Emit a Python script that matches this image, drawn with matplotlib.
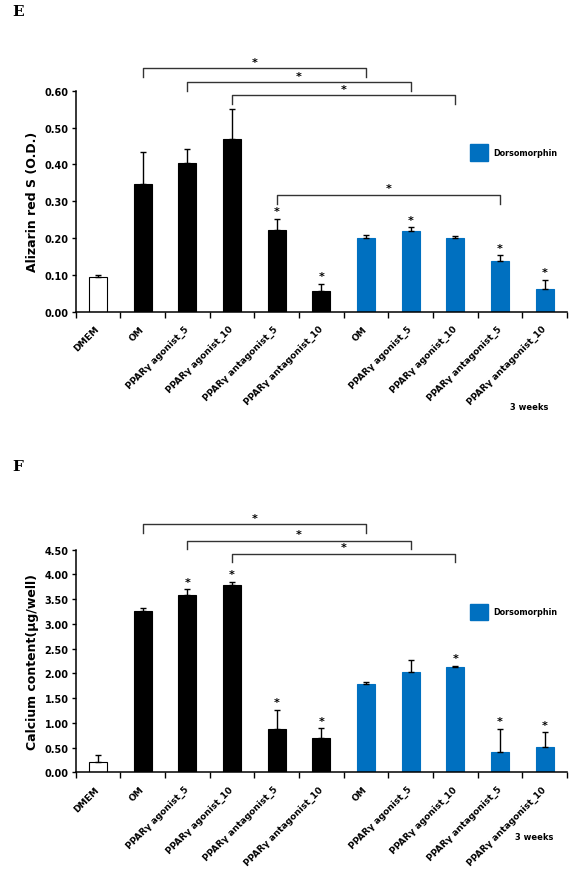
import numpy as np
import matplotlib.pyplot as plt
from matplotlib.patches import Patch

plt.rcParams['font.family'] = ['DejaVu Sans']
plt.rcParams['font.weight'] = 'bold'

# Data
groups = ["DMEM", "OM", "PPARγ agonist_5", "PPARγ agonist_10",
          "PPARγ antagonist_5", "PPARγ antagonist_10",
          "OM", "PPARγ agonist_5", "PPARγ agonist_10",
          "PPARγ antagonist_5", "PPARγ antagonist_10"]
bar_kind = ["ctrl", "k", "k", "k", "k", "k", "b", "b", "b", "b", "b"]

alizarin = [0.095, 0.348, 0.405, 0.470, 0.223, 0.057, 0.201, 0.220, 0.199, 0.139, 0.062]
alizarin_err = [0.005, 0.086, 0.037, 0.080, 0.030, 0.018, 0.007, 0.009, 0.006, 0.014, 0.024]
alizarin_stars = [4, 5, 7, 9, 10]
alizarin_brackets = [(1, 6, 0.661, 0.636), (2, 7, 0.624, 0.600),
                     (3, 8, 0.588, 0.564), (4, 9, 0.318, 0.292)]

calcium = [0.216, 3.255, 3.578, 3.794, 0.876, 0.700, 1.786, 2.028, 2.123, 0.404, 0.519]
calcium_err = [0.14, 0.07, 0.12, 0.06, 0.39, 0.19, 0.047, 0.25, 0.03, 0.48, 0.29]
calcium_stars = [2, 3, 4, 5, 8, 9, 10]
calcium_brackets = [(1, 6, 5.013, 4.838), (2, 7, 4.683, 4.515), (3, 8, 4.420, 4.245)]

blue = "#0070C0"
colors = {"ctrl": "white", "k": "black", "b": blue}

W, H = 569, 878
fig = plt.figure(figsize=(W / 100, H / 100), dpi=100)


def panel(rect, values, errs, stars, brackets, ymax, ystep, ylabel, letter, letter_y, weeks_x, weeks_y):
    ax = fig.add_axes(rect)
    x = np.arange(len(values))
    ax.bar(x, values, width=0.4, color=[colors[k] for k in bar_kind],
           edgecolor=["black" if k == "ctrl" else colors[k] for k in bar_kind],
           linewidth=0.8, zorder=2)
    ax.errorbar(x, values, yerr=[np.zeros(len(errs)), errs], fmt="none",
                ecolor="black", elinewidth=1.0, capsize=2, capthick=1.0, zorder=3)
    ax.set_xlim(-0.5, len(values) - 0.5)
    ax.set_ylim(0, ymax)
    ticks = np.arange(0, ymax + ystep / 2, ystep)
    ax.set_yticks(ticks)
    ax.set_yticklabels([f"{v:.2f}" for v in ticks], fontsize=7, fontweight="bold")
    ax.set_xticks(x)
    ax.set_xticklabels(groups, rotation=45, ha="right", va="center",
                       rotation_mode="anchor", fontsize=6.5, fontweight="bold")
    ax.set_xticks(np.arange(-0.5, len(values)), minor=True)
    ax.tick_params(axis="x", which="major", length=0, pad=11)
    ax.tick_params(axis="x", which="minor", length=4, width=1, direction="out")
    ax.tick_params(axis="y", length=3, width=1, direction="out", pad=2)
    for s in ["top", "right"]:
        ax.spines[s].set_visible(False)
    for s in ["left", "bottom"]:
        ax.spines[s].set_linewidth(1.1)
    ax.set_ylabel(ylabel, fontsize=9, fontweight="bold", labelpad=4)

    off = ymax * 0.012
    for i in stars:
        ax.text(x[i], values[i] + errs[i] + off, "*", ha="center", va="bottom",
                fontsize=8, fontweight="bold")
    for a, b, ytop, yleg in brackets:
        ax.plot([a, a, b, b], [yleg, ytop, ytop, yleg], color="#333333",
                lw=1.0, clip_on=False)
        ax.text((a + b) / 2, ytop + off * 0.5, "*", ha="center", va="bottom",
                fontsize=8, fontweight="bold")

    ax.legend(handles=[Patch(facecolor=blue, edgecolor=blue)], labels=["Dorsomorphin"],
              loc="center left", bbox_to_anchor=(0.794, 0.72), frameon=False,
              handlelength=2.3, handleheight=2.8, handletextpad=0.6, borderpad=0,
              prop={"size": 5.8, "weight": "bold"})

    fig.text(18 / W, 1 - letter_y / H, letter, fontsize=11, fontweight="bold",
             family="DejaVu Serif", ha="center", va="center")
    fig.text(weeks_x / W, 1 - weeks_y / H, "3 weeks", fontsize=6, fontweight="bold",
             ha="right", va="center")
    return ax


panel([75.6 / W, 1 - 312.7 / H, 491.4 / W, (312.7 - 91.7) / H],
      alizarin, alizarin_err, alizarin_stars, alizarin_brackets,
      0.6, 0.1, "Alizarin red S (O.D.)", "E", 12, 548, 408)

panel([75.6 / W, 1 - 773.3 / H, 491.4 / W, (773.3 - 550.7) / H],
      calcium, calcium_err, calcium_stars, calcium_brackets,
      4.5, 0.5, "Calcium content(μg/well)", "F", 467, 553, 838)

fig.savefig("out.png", dpi=100)
